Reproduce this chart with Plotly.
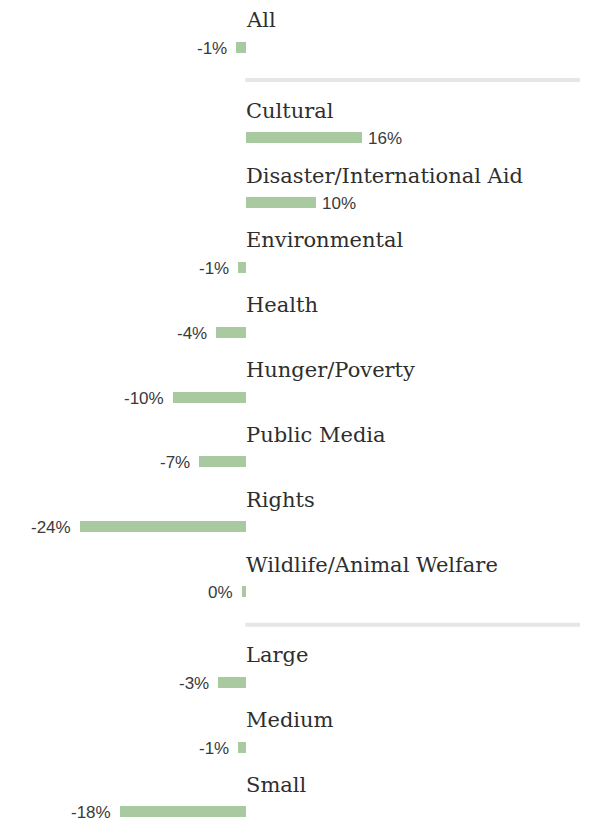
import plotly.graph_objects as go

categories = ["All", "Cultural", "Disaster/International Aid", "Environmental", "Health",
              "Hunger/Poverty", "Public Media", "Rights", "Wildlife/Animal Welfare",
              "Large", "Medium", "Small"]
values = [-1.4, 16.6, 10.0, -1.1, -4.3, -10.4, -6.7, -23.7, -0.6, -4.0, -1.1, -18.0]
value_labels = ["-1%", "16%", "10%", "-1%", "-4%", "-10%", "-7%", "-24%", "0%", "-3%", "-1%", "-18%"]
groups = [0, 1, 1, 1, 1, 1, 1, 1, 1, 2, 2, 2]

GROUP_GAP = 0.4
ypos = [i + GROUP_GAP * g for i, g in enumerate(groups)]

W, H = 595, 823
ZERO_PX = 246
PX_PER_UNIT_X = 7.0
PITCH = 64.83
FIRST_BAR_PX = 47

xr = [-ZERO_PX / PX_PER_UNIT_X, (W - ZERO_PX) / PX_PER_UNIT_X]
yr = [(H - FIRST_BAR_PX) / PITCH, -FIRST_BAR_PX / PITCH]

fig = go.Figure()
fig.add_trace(go.Bar(
    x=values, y=ypos, orientation="h",
    width=11 / PITCH,
    marker=dict(color="#a9c9a0", line=dict(width=0)),
    hoverinfo="skip",
))

annotations = []
for cat, v, lab, y in zip(categories, values, value_labels, ypos):
    annotations.append(dict(
        x=0, y=y - 27 / PITCH, xref="x", yref="y", text=cat, showarrow=False,
        xanchor="left", yanchor="middle", xshift=-2,
        font=dict(family="DejaVu Serif", size=21, color="#2e2e2e"),
    ))
    annotations.append(dict(
        x=v, y=y, xref="x", yref="y", text=lab, showarrow=False,
        xanchor="right" if v < 0 else "left", yanchor="middle",
        xshift=-7 if v < 0 else 4, yshift=-1,
        font=dict(family="Liberation Sans", size=17, color="#3a3a3a"),
    ))

shapes = []
for i in range(1, len(groups)):
    if groups[i] != groups[i - 1]:
        ysep = ypos[i - 1] + 0.51
        shapes.append(dict(
            type="line", xref="x", yref="y",
            x0=-0.1, x1=(580 - ZERO_PX) / PX_PER_UNIT_X, y0=ysep, y1=ysep,
            line=dict(color="#e6e6e6", width=4),
        ))

fig.update_layout(
    width=W, height=H,
    margin=dict(l=0, r=0, t=0, b=0),
    paper_bgcolor="white", plot_bgcolor="white",
    showlegend=False,
    xaxis=dict(range=xr, visible=False, fixedrange=True),
    yaxis=dict(range=yr, visible=False, fixedrange=True),
    annotations=annotations,
    shapes=shapes,
    bargap=0,
)

fig.write_html("out.html", config={"displayModeBar": False})
